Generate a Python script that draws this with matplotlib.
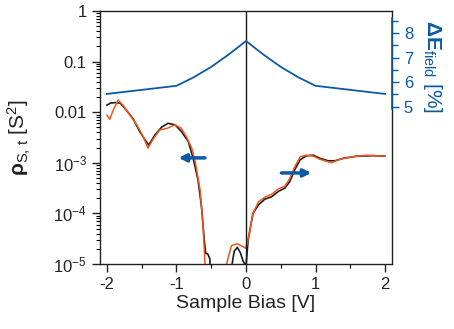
import matplotlib
matplotlib.use('Agg')
import matplotlib.pyplot as plt
import numpy as np
from matplotlib.ticker import FixedLocator, FixedFormatter, MultipleLocator, LogLocator, NullFormatter

plt.rcParams['font.family'] = ['Liberation Sans', 'DejaVu Sans']
plt.rcParams['mathtext.fontset'] = 'custom'
plt.rcParams['mathtext.rm'] = 'Liberation Sans'
plt.rcParams['mathtext.it'] = 'Liberation Sans:italic'
plt.rcParams['mathtext.bf'] = 'Liberation Sans:bold'

# black curve: sample bias [V] and log10(rho)
bias_black = [-2.0, -1.95, -1.88, -1.81, -1.72, -1.62, -1.53, -1.45, -1.40, -1.31,
              -1.21, -1.12, -1.02, -0.93, -0.83, -0.76, -0.69, -0.64, -0.60, -0.58,
              -0.55, -0.52, -0.51, -0.50, -0.23, -0.20, -0.17, -0.125, -0.08, -0.04,
              0.0, 0.03, 0.10, 0.18, 0.27, 0.37, 0.46, 0.56, 0.63, 0.70,
              0.78, 0.87, 0.97, 1.06, 1.18, 1.28, 1.40, 1.59, 1.83, 2.0]
logrho_black = [-1.86, -1.82, -1.81, -1.82, -1.96, -2.14, -2.38, -2.55, -2.65, -2.45,
                -2.29, -2.22, -2.25, -2.38, -2.58, -2.91, -3.34, -3.87, -4.53, -4.79,
                -4.80, -4.90, -5.3, -6.0, -6.0, -5.0, -4.75, -4.67, -4.78, -4.95,
                -5.05, -4.53, -4.0, -3.83, -3.72, -3.67, -3.57, -3.50, -3.37, -3.14,
                -2.94, -2.86, -2.85, -2.91, -2.96, -2.96, -2.91, -2.87, -2.86, -2.87]

# orange curve
bias_orange = [-2.0, -1.96, -1.91, -1.84, -1.77, -1.67, -1.57, -1.48, -1.41, -1.33,
               -1.24, -1.14, -1.02, -0.93, -0.86, -0.78, -0.73, -0.66, -0.62, -0.59,
               -0.58, -0.30, -0.28, -0.21, -0.13, -0.04, 0.0, 0.05, 0.10, 0.18,
               0.27, 0.37, 0.46, 0.56, 0.63, 0.70, 0.78, 0.87, 0.97, 1.06,
               1.23, 1.35, 1.54, 1.74, 2.0]
logrho_orange = [-2.06, -2.14, -1.96, -1.76, -1.86, -2.06, -2.25, -2.48, -2.71, -2.52,
                 -2.35, -2.32, -2.25, -2.32, -2.48, -2.71, -2.98, -3.54, -4.20, -4.99,
                 -6.0, -6.0, -5.0, -4.64, -4.60, -4.66, -4.69, -4.39, -4.0, -3.77,
                 -3.68, -3.62, -3.52, -3.46, -3.31, -3.08, -2.88, -2.85, -2.87, -2.93,
                 -3.0, -2.93, -2.88, -2.85, -2.87]

# field enhancement (right axis, %)
bias_field = [-2, -1, -0.75, -0.5, -0.25, 0, 0.25, 0.5, 0.75, 1, 2]
dE_field = [5.52, 5.85, 6.2, 6.62, 7.12, 7.67, 7.12, 6.62, 6.2, 5.85, 5.52]

# arrows (tail x, head x, y)
arrow_left = (-0.55, -1.01, 1.25e-3)
arrow_right = (0.47, 0.98, 6.3e-4)

blue = '#0b5aa6'
orange = '#f4561c'

fig = plt.figure(figsize=(4.54, 3.29), dpi=100)
ax = fig.add_axes([0.2203, 0.1976, 0.6431, 0.769])

ax.plot(bias_black, 10 ** np.array(logrho_black), color='#1a1a1a', lw=1.2)
ax.plot(bias_orange, 10 ** np.array(logrho_orange), color=orange, lw=1.1)
ax.axvline(0, color='#1a1a1a', lw=1)

ax.set_yscale('log')
ax.set_ylim(1e-5, 1)
ax.set_xlim(-2.1, 2.1)
ax.yaxis.set_major_locator(FixedLocator([1e-5, 1e-4, 1e-3, 1e-2, 1e-1, 1]))
ax.yaxis.set_major_formatter(FixedFormatter(['$10^{-5}$', '$10^{-4}$', '$10^{-3}$', '0.01', '0.1', '1']))
ax.yaxis.set_minor_locator(LogLocator(base=10, subs=np.arange(2, 10), numticks=100))
ax.yaxis.set_minor_formatter(NullFormatter())
ax.xaxis.set_major_locator(FixedLocator([-2, -1, 0, 1, 2]))
ax.xaxis.set_major_formatter(FixedFormatter(['-2', '-1', '0', '1', '2']))
ax.xaxis.set_minor_locator(MultipleLocator(0.5))
ax.tick_params(which='major', length=6, width=1, labelsize=12, colors='#222222')
ax.tick_params(which='minor', length=3, width=0.8)
ax.set_xlabel('Sample Bias [V]', fontsize=14, color='#222222', labelpad=2)
ax.set_ylabel(r'$\mathbf{\rho}_{\mathrm{S,\,t}}$ [S$^2$]', fontsize=15, color='#222222')
ax.yaxis.set_label_coords(-0.23, 0.5)
for s in ax.spines.values():
    s.set_linewidth(1)
    s.set_color('#222222')

for tail, head, y in [arrow_left, arrow_right]:
    ax.annotate('', xy=(head, y), xytext=(tail, y),
                arrowprops=dict(arrowstyle='-|>', color=blue, lw=2.5, mutation_scale=11))

ax2 = ax.twinx()
ax2.plot(bias_field, dE_field, color=blue, lw=1.3)
ax2.set_ylim(-1.39, 8.89)
ax2.yaxis.set_major_locator(FixedLocator([5, 6, 7, 8]))
ax2.yaxis.set_minor_locator(FixedLocator([5.5, 6.5, 7.5, 8.5]))
ax2.tick_params(which='major', length=5, width=1, labelsize=12, colors=blue)
ax2.tick_params(which='minor', length=4, width=1, colors=blue)
ax2.spines['right'].set_bounds(4.9, 8.6)
ax2.spines['right'].set_color(blue)
ax2.spines['right'].set_linewidth(1.2)
for k in ['left', 'top', 'bottom']:
    ax2.spines[k].set_visible(False)
ax2.set_ylabel(r'$\mathbf{\Delta E}_{\mathrm{field}}$ [%]', fontsize=15, color=blue, rotation=270, va='center')
ax2.yaxis.set_label_coords(1.14, 0.78)

fig.savefig('out.png', dpi=100)
